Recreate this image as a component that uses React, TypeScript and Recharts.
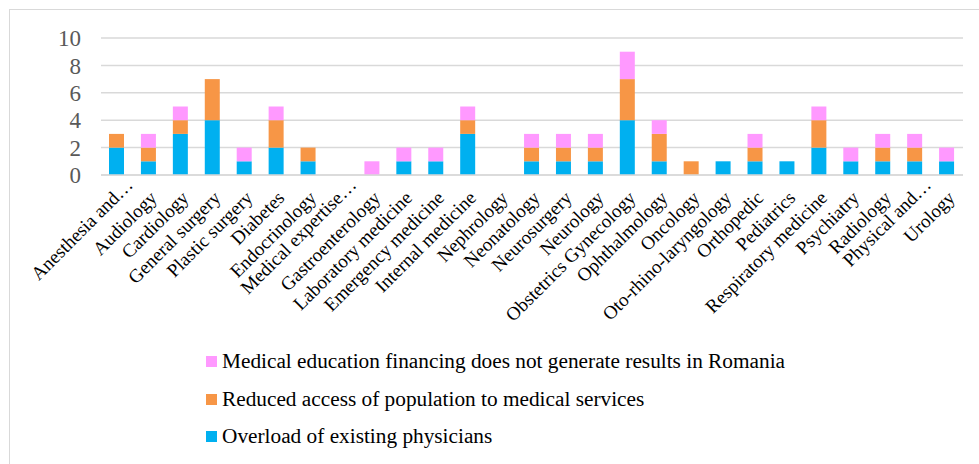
import React from 'react';
import { BarChart, Bar, XAxis, YAxis, CartesianGrid, Legend } from 'recharts';

const categories = [
  'Anesthesia and…', 'Audiology', 'Cardiology', 'General surgery', 'Plastic surgery',
  'Diabetes', 'Endocrinology', 'Medical expertise…', 'Gastroenterology', 'Laboratory medicine',
  'Emergency medicine', 'Internal medicine', 'Nephrology', 'Neonatology', 'Neurosurgery',
  'Neurology', 'Obstetrics Gynecology', 'Ophthalmology', 'Oncology', 'Oto-rhino-laryngology',
  'Orthopedic', 'Pediatrics', 'Respiratory medicine', 'Psychiatry', 'Radiology',
  'Physical and…', 'Urology',
];

const overload = [2, 1, 3, 4, 1, 2, 1, 0, 0, 1, 1, 3, 0, 1, 1, 1, 4, 1, 0, 1, 1, 1, 2, 1, 1, 1, 1];
const reducedAccess = [1, 1, 1, 3, 0, 2, 1, 0, 0, 0, 0, 1, 0, 1, 1, 1, 3, 2, 1, 0, 1, 0, 2, 0, 1, 1, 0];
const financing = [0, 1, 1, 0, 1, 1, 0, 0, 1, 1, 1, 1, 0, 1, 1, 1, 2, 1, 0, 0, 1, 0, 1, 1, 1, 1, 1];

const yTicks = [0, 2, 4, 6, 8, 10];

const series = [
  { key: 'overload', name: 'Overload of existing physicians', color: '#00B0F0' },
  { key: 'reduced', name: 'Reduced access of population to medical services', color: '#F79646' },
  { key: 'financing', name: 'Medical education financing does not generate results in Romania', color: '#FF99FF' },
];

const data = categories.map((name, i) => ({
  name,
  overload: overload[i],
  reduced: reducedAccess[i],
  financing: financing[i],
}));

const FONT = '"Times New Roman", "Liberation Serif", serif';

const CategoryTick = (props: any) => {
  const { x, y, payload } = props;
  const label = String(payload.value);
  const truncated = label.endsWith('…');
  const px = x + (truncated ? 17 : 9);
  const py = y + (truncated ? 11 : 24);
  return (
    <text
      x={px}
      y={py}
      transform={`rotate(-45 ${px} ${py})`}
      textAnchor="end"
      fontSize={19}
      fill="#000"
      fontFamily={FONT}
    >
      {label}
    </text>
  );
};

const LegendContent = () => {
  const items = [...series].reverse();
  return (
    <div style={{ fontFamily: FONT, fontSize: 21.3, color: '#000' }}>
      {items.map((it) => (
        <div key={it.key} style={{ display: 'flex', alignItems: 'center', height: 37.5, whiteSpace: 'nowrap' }}>
          <span style={{ display: 'inline-block', width: 11, height: 11, background: it.color, marginRight: 5 }} />
          <span>{it.name}</span>
        </div>
      ))}
    </div>
  );
};

export default function App() {
  return (
    <div style={{ position: 'absolute', left: 0, top: 0, width: 979, height: 464, background: '#fff', overflow: 'hidden' }}>
      <div
        style={{
          position: 'absolute',
          left: 9,
          top: 9,
          width: 970,
          height: 455,
          boxSizing: 'border-box',
          borderTop: '1px solid #d9d9d9',
          borderLeft: '1px solid #d9d9d9',
        }}
      />
      <div style={{ position: 'absolute', left: 0, top: 0 }}>
        <BarChart width={979} height={464} data={data} margin={{ top: 38, right: 16, bottom: 0, left: 0 }}>
          <CartesianGrid vertical={false} stroke="#d9d9d9" strokeWidth={1.5} />
          <XAxis
            dataKey="name"
            interval={0}
            height={289}
            tickSize={0}
            tickMargin={0}
            tickLine={false}
            axisLine={{ stroke: '#d9d9d9', strokeWidth: 1.5 }}
            tick={<CategoryTick />}
          />
          <YAxis
            domain={[0, 10]}
            ticks={yTicks}
            interval={0}
            width={101}
            axisLine={false}
            tickLine={false}
            tickSize={0}
            tickMargin={20}
            tick={{ fontSize: 23, fill: '#595959', fontFamily: FONT }}
          />
          <Legend
            layout="vertical"
            align="center"
            verticalAlign="middle"
            content={<LegendContent />}
            wrapperStyle={{ left: 206, top: 343, bottom: 'auto', width: 700 }}
          />
          {series.map((s) => (
            <Bar
              key={s.key}
              dataKey={s.key}
              name={s.name}
              stackId="a"
              fill={s.color}
              barSize={15}
              isAnimationActive={false}
            />
          ))}
        </BarChart>
      </div>
    </div>
  );
}
